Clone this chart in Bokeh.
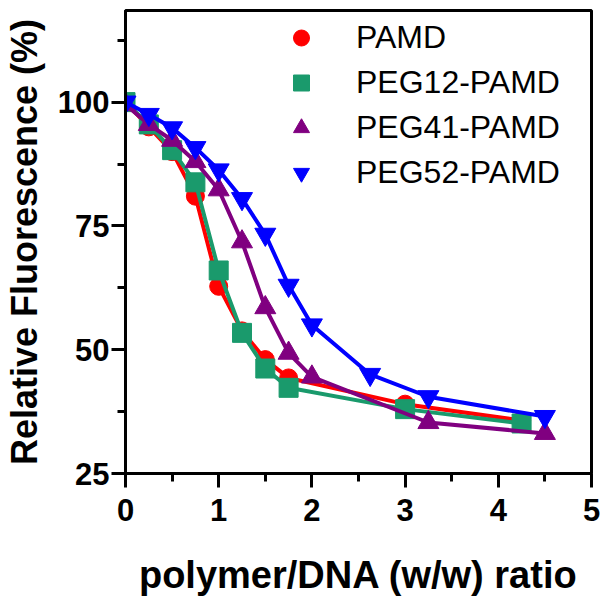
from bokeh.plotting import figure
from bokeh.models import Range1d, FixedTicker, Legend, LegendItem
from bokeh.embed import file_html
from bokeh.resources import INLINE

# ---- data ----
x_pamd = [0, 0.25, 0.5, 0.75, 1.0, 1.25, 1.5, 1.75, 3.0, 4.25]
y_pamd = [100, 95, 90, 81, 62.8, 53.8, 48, 44.3, 39, 35.7]

x_peg12 = [0, 0.25, 0.5, 0.75, 1.0, 1.25, 1.5, 1.75, 3.0, 4.25]
y_peg12 = [100, 95.5, 90.3, 83.8, 66, 53.4, 46.2, 42.3, 38, 35.1]

x_peg41 = [0, 0.25, 0.5, 0.75, 1.0, 1.25, 1.5, 1.75, 2.0, 3.25, 4.5]
y_peg41 = [99.5, 95.5, 92.3, 88, 82.3, 71.8, 58.5, 49.3, 44.5, 35.3, 33.1]

x_peg52 = [0, 0.25, 0.5, 0.75, 1.0, 1.25, 1.5, 1.75, 2.0, 2.625, 3.25, 4.5]
y_peg52 = [100, 97.5, 94.8, 90.8, 86.3, 80.5, 73.3, 63, 55, 45, 40.5, 36.5]

series_names = ["PAMD", "PEG12-PAMD", "PEG41-PAMD", "PEG52-PAMD"]
x_ticks = [0, 1, 2, 3, 4, 5]
y_ticks = [25, 50, 75, 100]

FONT = "Liberation Sans"

p = figure(frame_width=466, frame_height=463, output_backend="svg", toolbar_location=None,
           x_range=Range1d(0, 5), y_range=Range1d(25, 118.5),
           min_border_left=116, min_border_right=10, min_border_top=10,
           min_border_bottom=111)

p.xgrid.visible = False
p.ygrid.visible = False
p.outline_line_color = "black"
p.outline_line_width = 3
p.background_fill_color = "white"
p.border_fill_color = "white"

series = [
    (x_pamd, y_pamd, "#FF0000", "circle", 18),
    (x_peg12, y_peg12, "#1A9A6C", "square", 19),
    (x_peg41, y_peg41, "#800080", "triangle", 21),
    (x_peg52, y_peg52, "#0000FF", "inverted_triangle", 21),
]

items = []
for (xs, ys, col, mk, sz), name in zip(series, series_names):
    p.line(xs, ys, line_color=col, line_width=4)
    r = p.scatter(xs, ys, marker=mk, size=sz, fill_color=col, line_color=col)
    items.append(LegendItem(label=name, renderers=[r]))

legend = Legend(items=items, location=(156, 278), orientation="vertical",
                glyph_width=40, glyph_height=45, label_height=45, spacing=0,
                padding=0, margin=0, label_standoff=35,
                border_line_color=None, background_fill_alpha=0,
                label_text_font=FONT, label_text_font_size="32px",
                label_text_color="black")
p.add_layout(legend, "center")

for ax in (p.xaxis[0], p.yaxis[0]):
    ax.axis_line_width = 3
    ax.axis_line_color = "black"
    ax.major_tick_line_width = 3
    ax.minor_tick_line_width = 3
    ax.major_tick_out = 14
    ax.major_tick_in = 0
    ax.minor_tick_out = 8
    ax.minor_tick_in = 0
    ax.major_label_text_font = FONT
    ax.major_label_text_font_style = "bold"
    ax.major_label_text_font_size = "31px"
    ax.major_label_text_color = "black"
    ax.axis_label_text_font = FONT
    ax.axis_label_text_font_style = "bold"
    ax.axis_label_text_color = "black"

p.xaxis.ticker = FixedTicker(ticks=x_ticks, minor_ticks=[0.5, 1.5, 2.5, 3.5, 4.5])
p.yaxis.ticker = FixedTicker(ticks=y_ticks, minor_ticks=[37.5, 62.5, 87.5, 112.5])
p.xaxis.major_label_standoff = 11
p.yaxis.major_label_standoff = 2
p.xaxis.axis_label = "polymer/DNA (w/w) ratio"
p.yaxis.axis_label = "Relative Fluorescence (%)"
p.xaxis.axis_label_text_font_size = "38px"
p.yaxis.axis_label_text_font_size = "36px"
p.xaxis.axis_label_standoff = 30
p.yaxis.axis_label_standoff = 10

open("out.html", "w").write(file_html(p, INLINE))
